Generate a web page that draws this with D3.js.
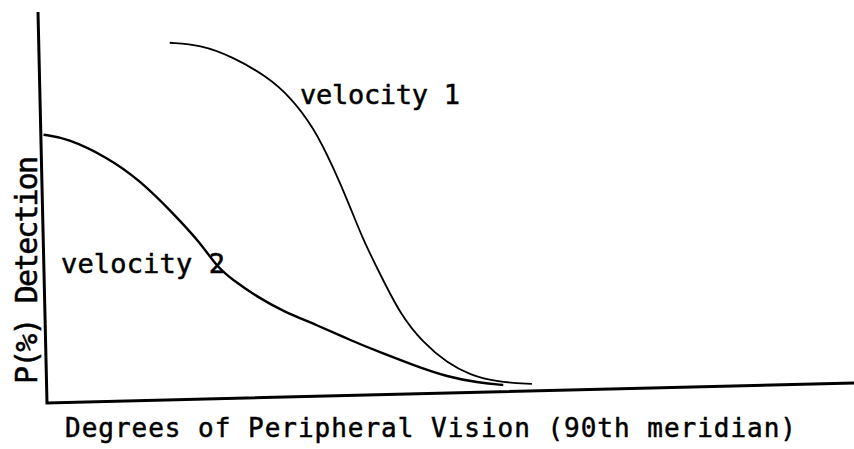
<!DOCTYPE html>
<html>
<head>
<meta charset="utf-8">
<script src="https://cdn.jsdelivr.net/npm/d3@7"></script>
<style>
  body { margin: 0; background: #fff; }
  text { font-family: "DejaVu Sans Mono", monospace; fill: #000; stroke: #000; stroke-width: 0.5px; }
</style>
</head>
<body>
<div id="graph"></div>
<script>
// values: degrees from the fovea vs. % detection
const vel1_deg = [14.6, 18.0, 21.6, 25.4, 27.9, 30.4, 32.5, 34.3, 35.6, 37.4, 39.7, 42.1, 44.7, 47.2, 50.2, 54.1];
const vel1_p   = [91.3, 90.6, 87.3, 82.0, 76.7, 68.9, 58.5, 48.2, 40.0, 31.1, 20.0, 13.0, 7.7, 4.5, 2.5, 1.8];

const vel2_deg = [0.3, 2.9, 7.3, 10.9, 14.5, 17.5, 19.3, 21.0, 23.7, 26.5, 30.3, 33.9, 37.6, 40.9, 44.7, 48.3, 50.9];
const vel2_p   = [68.6, 67.6, 62.5, 56.4, 47.8, 40.0, 33.7, 30.3, 25.8, 22.0, 18.2, 14.2, 10.5, 7.4, 4.1, 2.4, 1.7];

const series_names = ["velocity 1", "velocity 2"];
const x_title = "Degrees of Peripheral Vision (90th meridian)";
const y_title = "P(%) Detection";

const width = 854, height = 449;
const plot_w = 807, plot_h = 391;

let svg = d3.select("#graph")
    .append("svg")
    .attr("width", width)
    .attr("height", height);

// the hand drawn axes lean a little, so the plot frame is sheared to follow them
let plot = svg.append("g")
    .attr("transform", "matrix(1, -0.0248, 0.023, 1, 47, 403)");

let x = d3.scaleLinear().domain([0, 90]).range([0, plot_w]);
let y = d3.scaleLinear().domain([0, 100]).range([0, -plot_h]);

// axes
plot.append("path")
    .attr("d", d3.line()([[x(0), y(100)], [x(0), y(0)], [x(90), y(0)]]))
    .attr("fill", "none")
    .attr("stroke", "#000")
    .attr("stroke-width", 3);

let line = d3.line()
    .x(d => x(d[0]))
    .y(d => y(d[1]))
    .curve(d3.curveBasis);

let curves = [d3.zip(vel1_deg, vel1_p), d3.zip(vel2_deg, vel2_p)];

plot.selectAll(".curve")
    .data(curves)
    .enter()
    .append("path")
    .attr("class", "curve")
    .attr("d", line)
    .attr("fill", "none")
    .attr("stroke", "#000")
    .attr("stroke-width", (d, i) => i === 0 ? 1.8 : 2.4);

// curve labels
svg.append("text")
    .attr("x", 300)
    .attr("y", 104)
    .attr("font-size", 27)
    .attr("textLength", 160)
    .attr("lengthAdjust", "spacing")
    .text(series_names[0]);

svg.append("text")
    .attr("x", 61)
    .attr("y", 273)
    .attr("font-size", 27)
    .attr("textLength", 164)
    .attr("lengthAdjust", "spacing")
    .text(series_names[1]);

// axis titles
svg.append("text")
    .attr("x", 65)
    .attr("y", 437)
    .attr("font-size", 26)
    .attr("textLength", 731)
    .attr("lengthAdjust", "spacing")
    .text(x_title);

svg.append("text")
    .attr("transform", "translate(37, 384) rotate(-90)")
    .attr("font-size", 30)
    .attr("textLength", 228)
    .attr("lengthAdjust", "spacing")
    .text(y_title);
</script>
</body>
</html>
